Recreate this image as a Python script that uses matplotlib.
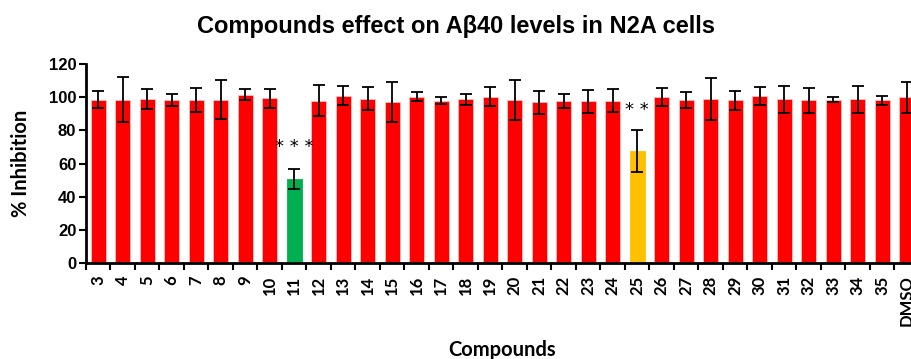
import matplotlib
matplotlib.use("Agg")
import matplotlib.pyplot as plt
import numpy as np

categories = ["3", "4", "5", "6", "7", "8", "9", "10", "11", "12", "13", "14", "15", "16",
              "17", "18", "19", "20", "21", "22", "23", "24", "25", "26", "27", "28", "29",
              "30", "31", "32", "33", "34", "35", "DMSO"]
values = [98.4, 98.4, 98.8, 98.2, 98.4, 98.4, 101.6, 99.2, 50.5, 97.9, 101.0, 99.0, 97.2, 100.4,
          97.9, 98.8, 100.2, 98.2, 97.0, 97.8, 97.4, 97.9, 67.4, 100.2, 98.4, 98.8, 98.2,
          100.6, 98.8, 98.2, 98.4, 98.6, 98.2, 99.8]
errors = [5.2, 13.5, 5.9, 3.8, 7.4, 11.8, 3.4, 5.6, 6.0, 9.5, 5.8, 6.9, 12.0, 2.8,
          2.0, 3.4, 5.8, 12.2, 7.0, 4.3, 7.2, 7.1, 12.5, 5.6, 5.0, 12.5, 5.7,
          5.4, 8.2, 7.5, 1.5, 8.2, 2.7, 9.2]
highlight = {"11": "#00B050", "25": "#FFC000"}
significance = {"11": ("* * *", 70), "25": ("* *", 92)}
yticks = [0, 20, 40, 60, 80, 100, 120]

colors = [highlight.get(c, "#FF0000") for c in categories]
edges = [(1, 0.75, 0.75) if c == "#FF0000" else c for c in colors]

fig = plt.figure(figsize=(9.12, 3.59), dpi=100)
ax = fig.add_axes([86 / 912, 96 / 359, 833 / 912, 199 / 359])

x = np.arange(len(categories))
ax.bar(x, values, width=0.6, color=colors, edgecolor=edges, linewidth=0.6, zorder=2)
ax.errorbar(x, values, yerr=errors, fmt="none", ecolor="black", elinewidth=1.3,
            capsize=4, capthick=1.3, zorder=3)

for cat, (txt, yv) in significance.items():
    i = categories.index(cat)
    ax.text(x[i], yv, txt, ha="center", va="center", fontsize=13, family="DejaVu Sans")

ax.set_xlim(-0.5, len(categories) - 0.5)
ax.set_ylim(0, 120)
ax.set_yticks(yticks)
ax.set_yticklabels([str(v) for v in yticks], fontsize=12, fontweight="bold", family="Liberation Sans")
ax.set_xticks(x)
ax.set_xticklabels(categories, rotation=90, fontsize=12, fontweight="bold", family="Lato")
ax.set_xticks(np.arange(-0.5, len(categories), 1.0), minor=True)
ax.tick_params(axis="x", which="major", length=0, pad=9)
ax.tick_params(axis="x", which="minor", length=5, width=1.5, direction="out")
ax.tick_params(axis="y", length=5, width=1.5, direction="out", pad=2)

for s in ["top", "right"]:
    ax.spines[s].set_visible(False)
for s in ["left", "bottom"]:
    ax.spines[s].set_linewidth(2)

ax.set_ylabel("% Inhibition", fontsize=14.5, fontweight="bold", family="Lato")
ax.yaxis.set_label_coords((31 - 86) / 833, 0.5)
ax.set_xlabel("Compounds", fontsize=14.5, fontweight="bold", family="Lato")
ax.xaxis.set_label_coords(0.5, (263 - 340) / 199)

fig.text(0.5, (359 - 33) / 359, "Compounds effect on A\u03b240 levels in N2A cells", ha="center",
         va="baseline", fontsize=17, fontweight="bold", family="Liberation Sans")

fig.savefig("out.png", dpi=100)
